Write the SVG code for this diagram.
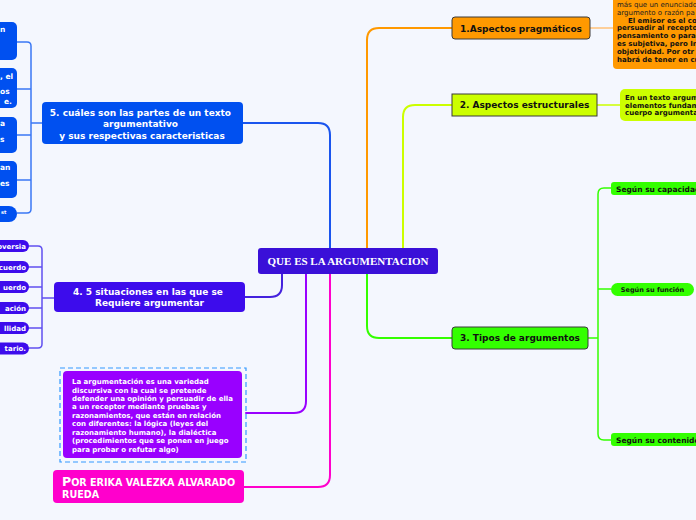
<svg xmlns="http://www.w3.org/2000/svg" width="696" height="520" viewBox="0 0 696 520">
<style>
.t{font-family:"DejaVu Sans",Verdana,sans-serif;font-weight:bold}
.w{fill:#ffffff}
.k{fill:#111111}
.c{fill:none;stroke-linecap:round;stroke-linejoin:round}
</style>
<rect x="0" y="0" width="696" height="520" fill="#f4f7fe"/>
<g id="connectors">
  <path class="c" d="M243 123 H318 Q330 123 330 135 V248" stroke="#1a55ee" stroke-width="2"/>
  <path class="c" d="M367 248 V40 Q367 28 379 28 H452" stroke="#ff9900" stroke-width="2"/>
  <path class="c" d="M403 248 V117 Q403 105 415 105 H452" stroke="#ccff00" stroke-width="2"/>
  <path class="c" d="M367 274 V326 Q367 338 379 338 H452" stroke="#33ff00" stroke-width="2"/>
  <path class="c" d="M306 274 V401 Q306 413 294 413 H246" stroke="#9900ff" stroke-width="2"/>
  <path class="c" d="M330 274 V475 Q330 487 318 487 H244" stroke="#ff00cc" stroke-width="2"/>
  <path class="c" d="M282 274 V285 Q282 297 270 297 H245" stroke="#4422dd" stroke-width="2"/>
  <path class="c" d="M590 28 H613" stroke="#ffc27a" stroke-width="1.5"/>
  <path class="c" d="M597 105 H620" stroke="#ccff00" stroke-width="1.5"/>
  <path class="c" d="M588 338 H598 M611 188 H604 Q598 188 598 194 V434 Q598 440 604 440 H611 M598 289 H611" stroke="#33ff00" stroke-width="1.5"/>
  <path class="c" d="M42 123 H31 M17 42 H27 Q31 42 31 46 V209 Q31 213 27 213 H17 M31 89 H17 M31 135 H17 M31 180 H17" stroke="#3a78f5" stroke-width="1.5"/>
  <path class="c" d="M54 298 H42 M29 246 H38 Q42 246 42 250 V344 Q42 348 38 348 H29 M42 267 H29 M42 287 H29 M42 308 H29 M42 328 H29" stroke="#6050f0" stroke-width="1.5"/>
</g>
<g id="center">
  <rect x="258" y="248" width="180" height="26" rx="3" fill="#3a10d8"/>
  <text x="348" y="265" text-anchor="middle" font-family="'Liberation Serif','Times New Roman',serif" font-weight="bold" font-size="11" fill="#ffffff">QUE ES LA ARGUMENTACION</text>
</g>
<g id="node1">
  <rect x="452" y="17" width="138" height="22" rx="3" fill="#ff9900" stroke="#3a3a3a" stroke-width="1"/>
  <text class="t k" x="521" y="31.5" text-anchor="middle" font-size="9">1.Aspectos pragmáticos</text>
</g>
<g id="node1-text">
  <rect x="613" y="-10" width="90" height="79" rx="4" fill="#ff9900"/>
  <text font-family="'DejaVu Sans',Verdana,sans-serif" font-size="7" fill="#222">
    <tspan x="617" y="7">más que un enunciado</tspan>
    <tspan x="617" y="14.8">argumento o razón pa</tspan>
  </text>
  <text class="t k" font-size="7">
    <tspan x="628" y="22.6">El emisor es el co</tspan>
    <tspan x="617" y="30.4">persuadir al recepto</tspan>
    <tspan x="617" y="38.2">pensamiento o para</tspan>
    <tspan x="617" y="46">es subjetiva, pero In</tspan>
    <tspan x="617" y="53.8">objetividad.  Por otr</tspan>
    <tspan x="617" y="61.6">habrá de tener en cu</tspan>
  </text>
</g>
<g id="node2">
  <rect x="452" y="94" width="145" height="22" fill="#ccff00" stroke="#3a3a3a" stroke-width="1"/>
  <text class="t k" x="524.5" y="108.3" text-anchor="middle" font-size="9">2. Aspectos estructurales</text>
</g>
<g id="node2-text">
  <rect x="620" y="89" width="85" height="32" rx="5" fill="#ccff00"/>
  <text class="t k" font-size="7">
    <tspan x="625" y="100">En un texto argum</tspan>
    <tspan x="625" y="107.5">elementos fundam</tspan>
    <tspan x="625" y="115">cuerpo argumenta</tspan>
  </text>
</g>
<g id="node3">
  <rect x="452" y="327" width="136" height="22" rx="3" fill="#33ff00" stroke="#3a3a3a" stroke-width="1"/>
  <text class="t k" x="520" y="341.3" text-anchor="middle" font-size="9">3. Tipos de argumentos</text>
</g>
<g id="node3a">
  <rect x="611" y="182" width="92" height="13" rx="3" fill="#33ff00"/>
  <text class="t k" x="616" y="191.5" font-size="7.5">Según su capacidad</text>
</g>
<g id="node3b">
  <rect x="611" y="283" width="83" height="13" rx="6.5" fill="#33ff00"/>
  <text class="t k" x="652.5" y="292" text-anchor="middle" font-size="6.5">Según su función</text>
</g>
<g id="node3c">
  <rect x="611" y="433" width="92" height="13" rx="3" fill="#33ff00"/>
  <text class="t k" x="616" y="442.5" font-size="7.5">Según su contenido</text>
</g>
<g id="node5">
  <rect x="42" y="102" width="201" height="42" rx="4" fill="#0050f0"/>
  <text class="t w" font-size="9" text-anchor="middle">
    <tspan x="142" y="115.5">5. cuáles son las partes de un texto</tspan>
    <tspan x="142" y="127">argumentativo</tspan>
    <tspan x="142" y="138.5">y sus respectivas caracteristicas</tspan>
  </text>
</g>
<g id="node5a">
  <rect x="-60" y="22" width="77" height="38" rx="5" fill="#0050f0"/>
  <text class="t w" x="0" y="31.5" font-size="7.5">n</text>
</g>
<g id="node5b">
  <rect x="-60" y="68" width="77" height="40" rx="5" fill="#0050f0"/>
  <text class="t w" font-size="7.5">
    <tspan x="0" y="78.5">, el</tspan>
    <tspan x="0" y="94">os</tspan>
    <tspan x="4" y="103.5">e.</tspan>
  </text>
</g>
<g id="node5c">
  <rect x="-60" y="117" width="77" height="36" rx="5" fill="#0050f0"/>
  <text class="t w" font-size="7.5">
    <tspan x="0" y="125.5">a</tspan>
    <tspan x="0" y="141.5">s</tspan>
  </text>
</g>
<g id="node5d">
  <rect x="-60" y="161" width="77" height="37" rx="5" fill="#0050f0"/>
  <text class="t w" font-size="7.5">
    <tspan x="0" y="169.5">an</tspan>
    <tspan x="0" y="185.5">es</tspan>
  </text>
</g>
<g id="node5e">
  <rect x="-60" y="206" width="77" height="16" rx="8" fill="#0050f0"/>
  <text class="t w" x="1" y="214" font-size="5">st</text>
</g>
<g id="node4">
  <rect x="54" y="282" width="191" height="30" rx="4" fill="#3d0cec"/>
  <text class="t w" font-size="9" text-anchor="middle">
    <tspan x="149.5" y="294.5">4. 5 situaciones en las que se</tspan>
    <tspan x="149.5" y="306">Requiere argumentar</tspan>
  </text>
</g>
<g id="node4a"><rect x="-40" y="240" width="69" height="12" rx="6" fill="#3d0cec"/><text class="t w" x="26" y="248.5" text-anchor="end" font-size="7">oversia</text></g>
<g id="node4b"><rect x="-40" y="261" width="69" height="12" rx="6" fill="#3d0cec"/><text class="t w" x="26" y="269.5" text-anchor="end" font-size="7">cuerdo</text></g>
<g id="node4c"><rect x="-40" y="281" width="69" height="12" rx="6" fill="#3d0cec"/><text class="t w" x="26" y="289.5" text-anchor="end" font-size="7">uerdo</text></g>
<g id="node4d"><rect x="-40" y="302" width="69" height="12" rx="6" fill="#3d0cec"/><text class="t w" x="26" y="310.5" text-anchor="end" font-size="7">ación</text></g>
<g id="node4e"><rect x="-40" y="322" width="69" height="12" rx="6" fill="#3d0cec"/><text class="t w" x="26" y="330.5" text-anchor="end" font-size="7">llidad</text></g>
<g id="node4f"><rect x="-40" y="342.5" width="69" height="12" rx="6" fill="#3d0cec"/><text class="t w" x="26" y="351" text-anchor="end" font-size="7">tario.</text></g>
<g id="node-def">
  <rect x="60" y="368" width="186" height="94" fill="none" stroke="#3399ff" stroke-width="1.2" stroke-dasharray="5,3"/>
  <rect x="63" y="371" width="179" height="87" rx="4" fill="#9900ff"/>
  <text class="t w" font-size="7">
    <tspan x="72" y="384">La argumentación es una variedad</tspan>
    <tspan x="72" y="392.5">discursiva con la cual se pretende</tspan>
    <tspan x="72" y="401">defender una opinión y persuadir de ella</tspan>
    <tspan x="72" y="409.4">a un receptor mediante pruebas y</tspan>
    <tspan x="72" y="417.9">razonamientos, que están en relación</tspan>
    <tspan x="72" y="426.3">con diferentes: la lógica (leyes del</tspan>
    <tspan x="72" y="434.8">razonamiento humano), la dialéctica</tspan>
    <tspan x="72" y="443.2">(procedimientos que se ponen en juego</tspan>
    <tspan x="72" y="451.7">para probar o refutar algo)</tspan>
  </text>
</g>
<g id="node-author">
  <rect x="53" y="470" width="191" height="33" rx="4" fill="#ff00cc"/>
  <text class="t w" x="62" y="485.5"><tspan font-size="12.5">P</tspan><tspan font-size="9.6">OR ERIKA VALEZKA ALVARADO</tspan></text>
  <text class="t w" x="62" y="497.5" font-size="9.6">RUEDA</text>
</g>
</svg>
